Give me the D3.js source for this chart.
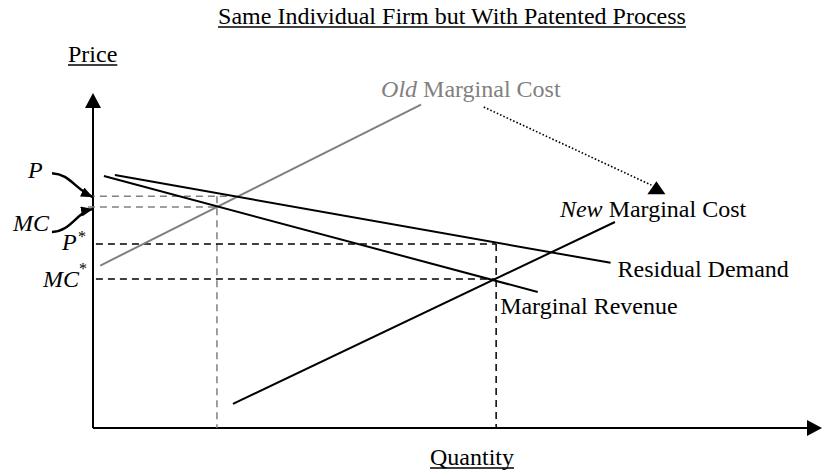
<!DOCTYPE html>
<head>
    <style>
        body { margin: 0; background: #fff; }
        text { font-family: "Liberation Serif", "Times New Roman", serif; }
    </style>
</head>
<body>
    <script src="https://d3js.org/d3.v7.min.js"></script>
    <script>
        const width = 822;
        const height = 472;

        // curves, [quantity, price] in chart units (0..100)
        const oldMC = [[1, 48.5], [45, 96.5]];
        const demand = [[3, 75.5], [71, 49.3]];
        const mr = [[1.5, 75.2], [61, 40.6]];
        const newMC = [[19.2, 7.2], [71.6, 61.5]];

        // equilibrium values
        const oldQ = 17.0, oldP = 69.2, oldMCval = 66.0, oldPEnd = 19.4;
        const newQ = 55.3, newP = 54.9, newMCval = 44.5;

        // dotted shift arrow, from under "Old" label to above "New" label
        const shift = [[53.6, 95.8], [76.6, 72.5]];

        const titleText = "Same Individual Firm but With Patented Process";
        const yLabel = "Price";
        const xLabel = "Quantity";

        const svg = d3.select("body").append("svg").attr("width", width).attr("height", height);

        const x = d3.scaleLinear().domain([0, 100]).range([93, 822]);
        const y = d3.scaleLinear().domain([0, 100]).range([428, 93]);
        const line = d3.line().x(d => x(d[0])).y(d => y(d[1]));

        // arrow markers
        const defs = svg.append("defs");
        defs.append("marker").attr("id", "head")
            .attr("viewBox", "0 0 12 10").attr("refX", 12).attr("refY", 5)
            .attr("markerWidth", 12).attr("markerHeight", 10).attr("markerUnits", "userSpaceOnUse")
            .attr("orient", "auto")
            .append("path").attr("d", "M0,0L12,5L0,10Z").attr("fill", "#000");

        // axes
        svg.append("line").attr("x1", x(0)).attr("y1", y(0)).attr("x2", x(0)).attr("y2", y(100) + 14)
            .attr("stroke", "#000").attr("stroke-width", 2);
        svg.append("path")
            .attr("d", d3.line()([[x(0), y(100)], [x(0) - 8, y(100) + 15], [x(0) + 8, y(100) + 15]]) + "Z")
            .attr("fill", "#000");
        svg.append("line").attr("x1", x(0)).attr("y1", y(0)).attr("x2", x(100) - 14).attr("y2", y(0))
            .attr("stroke", "#000").attr("stroke-width", 2);
        svg.append("path")
            .attr("d", d3.line()([[x(100), y(0)], [x(100) - 15, y(0) - 8], [x(100) - 15, y(0) + 8]]) + "Z")
            .attr("fill", "#000");

        // dashed guides
        const gray = "#808080";
        const guides = [
            { pts: [[-0.7, oldP], [oldPEnd, oldP]], c: gray },
            { pts: [[-0.7, oldMCval], [oldQ, oldMCval]], c: gray },
            { pts: [[oldQ, oldP], [oldQ, 0]], c: gray },
            { pts: [[0.4, newP], [newQ, newP]], c: "#000" },
            { pts: [[0.4, newMCval], [newQ, newMCval]], c: "#000" },
            { pts: [[newQ, newP], [newQ, 0]], c: "#000" }
        ];
        svg.selectAll(".guide").data(guides).enter().append("path")
            .attr("class", "guide")
            .attr("d", d => line(d.pts))
            .attr("fill", "none").attr("stroke", d => d.c)
            .attr("stroke-width", 1.5).attr("stroke-dasharray", "7,5");

        // curves
        const curves = [
            { pts: oldMC, c: gray },
            { pts: demand, c: "#000" },
            { pts: mr, c: "#000" },
            { pts: newMC, c: "#000" }
        ];
        svg.selectAll(".curve").data(curves).enter().append("path")
            .attr("class", "curve")
            .attr("d", d => line(d.pts))
            .attr("fill", "none").attr("stroke", d => d.c).attr("stroke-width", 2);

        // dotted shift arrow, head points straight up
        svg.append("path").attr("d", line(shift))
            .attr("fill", "none").attr("stroke", "#000").attr("stroke-width", 1.6)
            .attr("stroke-dasharray", "1.6,2");
        const tip = [x(shift[1][0]) + 5, y(shift[1][1]) - 4];
        svg.append("path")
            .attr("d", d3.line()([[tip[0], tip[1]], [tip[0] - 9, tip[1] + 13], [tip[0] + 9, tip[1] + 13]]) + "Z")
            .attr("fill", "#000");

        // curved pointers from P and MC to the axis
        svg.append("path")
            .attr("d", `M52,${y(oldP) - 23} C70,${y(oldP) - 22} 74,${y(oldP) - 8} 93,${y(oldP) + 1}`)
            .attr("fill", "none").attr("stroke", "#000").attr("stroke-width", 2.5).attr("marker-end", "url(#head)");
        svg.append("path")
            .attr("d", `M52,${y(oldMCval) + 25} C72,${y(oldMCval) + 24} 75,${y(oldMCval) + 6} 93,${y(oldMCval) + 2}`)
            .attr("fill", "none").attr("stroke", "#000").attr("stroke-width", 2.5).attr("marker-end", "url(#head)");

        function txt(s, px, py, opts = {}) {
            const t = svg.append("text").attr("x", px).attr("y", py)
                .attr("font-size", opts.size || 24)
                .attr("fill", opts.fill || "#000")
                .attr("text-anchor", opts.anchor || "start");
            if (opts.italic) t.attr("font-style", "italic");
            t.text(s);
            if (opts.underline) {
                const b = t.node().getBBox();
                svg.append("line").attr("x1", b.x).attr("x2", b.x + b.width)
                    .attr("y1", py + 3).attr("y2", py + 3)
                    .attr("stroke", "#000").attr("stroke-width", 1.5);
            }
            return t;
        }

        function mixed(parts, px, py, fill) {
            const t = svg.append("text").attr("x", px).attr("y", py).attr("font-size", 24).attr("fill", fill);
            parts.forEach(p => t.append("tspan").attr("font-style", p[1] ? "italic" : "normal").text(p[0]));
        }

        txt(titleText, 452, 24, { anchor: "middle", underline: true });
        txt(yLabel, 68, 62, { underline: true });
        txt(xLabel, 472, 465, { anchor: "middle", underline: true });

        // curve labels, placed next to the curve ends
        mixed([["Old", true], [" Marginal Cost", false]], x(oldMC[1][0]) - 40, y(oldMC[1][1]) - 8, gray);
        mixed([["New", true], [" Marginal Cost", false]], x(newMC[1][0]) - 55, y(newMC[1][1]) - 5, "#000");
        txt("Residual Demand", x(demand[1][0]) + 7, y(demand[1][1]) + 14);
        txt("Marginal Revenue", x(newQ) + 4, y(mr[1][1]) + 22);

        // axis value labels
        txt("P", 28, y(oldP) - 18, { italic: true });
        txt("MC", 13, y(oldMCval) + 24, { italic: true });
        txt("P", 62, y(newP) + 6, { italic: true });
        txt("*", 78, y(newP) - 2, { size: 16 });
        txt("MC", 43, y(newMCval) + 8, { italic: true });
        txt("*", 79, y(newMCval) - 5, { size: 16 });
    </script>
</body>
</html>
